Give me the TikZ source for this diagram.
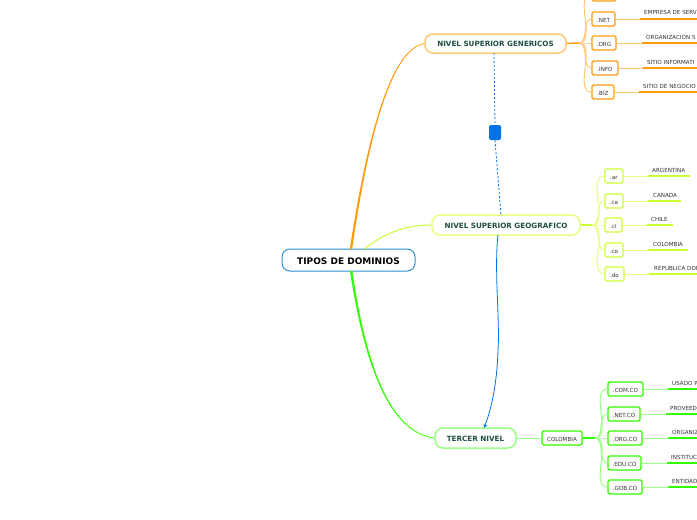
\documentclass[tikz,border=0pt]{standalone}
\usepackage{fontspec}
\usetikzlibrary{arrows.meta}
\setmainfont{DejaVu Sans}
\definecolor{orA}{HTML}{FF9A0D}
\definecolor{orB}{HTML}{FFC878}
\definecolor{geA}{HTML}{CCFF33}
\definecolor{geB}{HTML}{E6FF80}
\definecolor{grA}{HTML}{33FF00}
\definecolor{grB}{HTML}{99FF85}
\definecolor{blA}{HTML}{0073E6}
\definecolor{rootB}{HTML}{2E8FD0}
\definecolor{head}{HTML}{1F4F45}
\definecolor{small}{HTML}{333333}
\tikzset{
  mainbox/.style={draw, line width=1.5pt, rounded corners=8pt, inner sep=0pt, fill=white, text=head, text height=7pt, font=\fontsize{7.2}{8}\selectfont\bfseries},
  leafbox/.style={draw, line width=1.4pt, rounded corners=1.5pt, inner sep=0pt, fill=white, text=small, text height=6.3pt, font=\fontsize{5.6}{6}\selectfont},
  leaflabel/.style={inner sep=0pt, text=small, yshift=0.5pt, font=\fontsize{5.6}{6}\selectfont},
  thinlink/.style={line width=1pt},
  thicklink/.style={line width=1.5pt},
  rel/.style={blA, line width=0.8pt},
}
\begin{document}
\begin{tikzpicture}[x=1pt,y=-1pt]
\useasboundingbox (0,0) rectangle (697,520);
\clip (0,0) rectangle (697,520);
% main nodes
\node[draw=rootB, line width=1pt, rounded corners=8pt, inner sep=0pt, minimum width=133pt, minimum height=22pt, fill=white, text height=9pt, font=\fontsize{9}{10}\selectfont\bfseries] (root) at (348.5,260) {TIPOS DE DOMINIOS};
\node[mainbox, draw=orB, minimum width=141pt, minimum height=19pt] (gen) at (495.5,43.5) {NIVEL SUPERIOR GENERICOS};
\node[mainbox, draw=geB, minimum width=148pt, minimum height=20pt] (geo) at (506,225) {NIVEL SUPERIOR GEOGRAFICO};
\node[mainbox, draw=grB, minimum width=81pt, minimum height=20pt] (ter) at (475.5,438) {TERCER NIVEL};
\node[leafbox, draw=grA, minimum width=40pt, minimum height=14pt] (col) at (562,438) {COLOMBIA};
\node[fill=blA, draw=none, rounded corners=2pt, minimum width=12pt, minimum height=15pt, inner sep=0pt] (mark) at (495,132.5) {};
% root links (tapered)
\coordinate (rootG) at (364,249);
\coordinate (rootN) at (351,249);
\coordinate (rootS) at (351,271);
\draw[orA!80!white, line width=0.9pt] (rootN) .. controls (362.5,170) and (385,50) .. (gen.west);
\draw[grA!80!white, line width=0.9pt] (rootS) .. controls (362.5,350) and (385,432) .. (ter.west);
\fill[orA] (349.8,249) .. controls (362,170) and (385,50) .. (gen.west) .. controls (385.6,50.6) and (363.6,170) .. (352.2,249) -- cycle;
\fill[grA] (350,271) .. controls (362,350) and (385,432) .. (ter.west) .. controls (385.6,431.4) and (363.8,350) .. (352.4,271) -- cycle;
\draw[geA, line width=1pt] (rootG) .. controls (385,233) and (405,225) .. (geo.west);
% relationships
\coordinate (genRel) at (494,53);
\coordinate (geoRelN) at (501,215);
\coordinate (geoRelS) at (498,235);
\coordinate (terRel) at (484,428);
\draw[rel, dash pattern=on 2.2pt off 1.8pt] (genRel) -- (mark.north);
\draw[rel, dash pattern=on 2.2pt off 1.8pt] (mark.south) -- (geoRelN);
\draw[rel, -{Stealth[length=4pt,width=4pt]}] (geoRelS) .. controls (494,270) and (500,320) .. (498,350) .. controls (497,385) and (491,410) .. (terRel);
% hubs
\coordinate (hubA) at (579,43);
\coordinate (hubB) at (592,225);
\coordinate (hubC) at (595,438);
\draw[orA, thicklink] (gen.east) -- (hubA);
\draw[geA, thicklink] (geo.east) -- (hubB);
\draw[grB, thinlink] (ter.east) -- (col.west);
\draw[grA, thicklink] (col.east) -- (hubC);
% generic leaves
\node[leafbox, draw=orA, minimum width=24pt, minimum height=14pt] (g0) at (604,-6) {};
\draw[orB, thinlink] (hubA) to[out=0,in=180,looseness=0.9] (g0.west);
\foreach \n/\xl/\xr/\yc/\bt/\ls/\ly/\tx/\ty/\tl in {
  g1/592/615/19/.NET/640/19/644/13/EMPRESA DE SERVI,
  g2/592/616/43/.ORG/642/43/646/38/ORGANIZACION S,
  g3/592/618/68/.INFO/643/68/647/63/SITIO INFORMATI,
  g4/592/614/92/.BIZ/639/92/643/87/SITIO DE NEGOCIO}{
  \pgfmathsetmacro\bw{\xr-\xl}\pgfmathsetmacro\xm{(\xr+\xl)/2}
  \node[leafbox, draw=orA, minimum width=\bw pt, minimum height=14pt] (\n) at (\xm,\yc) {\bt};
  \draw[orB, thinlink] (hubA) to[out=0,in=180,looseness=0.9] (\n.west);
  \coordinate (\n a) at (\ls,\ly);
  \coordinate (\n b) at (697,\ly);
  \draw[orB, thinlink] (\n.east) -- (\n a);
  \draw[orA, thicklink] (\n a) -- (\n b);
  \node[leaflabel, anchor=west] (\n t) at (\tx,\ty) {\tl};
}
% geographic leaves
\foreach \n/\xl/\xr/\yc/\bt/\ls/\lend/\ly/\tx/\ty/\tl in {
  h1/605/623/176/.ar/648/690/176/652/171/ARGENTINA,
  h2/605/623/201/.ca/648/681/201/653/196/CANADA,
  h3/605/622/225/.cl/647/673/225/651/220/CHILE,
  h4/605/623/250/.co/648/688/250/653/245/COLOMBIA,
  h5/605/624/274/.do/649/697/274/654/269/REPUBLICA DOM}{
  \pgfmathsetmacro\bw{\xr-\xl}\pgfmathsetmacro\xm{(\xr+\xl)/2}
  \node[leafbox, draw=geA, minimum width=\bw pt, minimum height=14pt] (\n) at (\xm,\yc) {\bt};
  \draw[geB, thinlink] (hubB) to[out=0,in=180,looseness=0.9] (\n.west);
  \coordinate (\n a) at (\ls,\ly);
  \coordinate (\n b) at (\lend,\ly);
  \draw[geB, thinlink] (\n.east) -- (\n a);
  \draw[geA, thicklink] (\n a) -- (\n b);
  \node[leaflabel, anchor=west] (\n t) at (\tx,\ty) {\tl};
}
% third level leaves
\foreach \n/\xl/\xr/\yc/\bt/\ls/\ly/\tx/\ty/\tl in {
  t1/608/643/389/.COM.CO/668/389/672/384/USADO P,
  t2/608/640/414/.NET.CO/666/414/670/408.5/PROVEED,
  t3/608/642/438/.ORG.CO/668/438/672/433/ORGANIZ,
  t4/608/641/463/.EDU.CO/667/463/671/457.5/INSTITUC,
  t5/608/642/487/.GOB.CO/668/487/672/482/ENTIDAD}{
  \pgfmathsetmacro\bw{\xr-\xl}\pgfmathsetmacro\xm{(\xr+\xl)/2}
  \node[leafbox, draw=grA, minimum width=\bw pt, minimum height=14pt] (\n) at (\xm,\yc) {\bt};
  \draw[grB, thinlink] (hubC) to[out=0,in=180,looseness=0.9] (\n.west);
  \coordinate (\n a) at (\ls,\ly);
  \coordinate (\n b) at (697,\ly);
  \draw[grB, thinlink] (\n.east) -- (\n a);
  \draw[grA, thicklink] (\n a) -- (\n b);
  \node[leaflabel, anchor=west] (\n t) at (\tx,\ty) {\tl};
}
\end{tikzpicture}
\end{document}
